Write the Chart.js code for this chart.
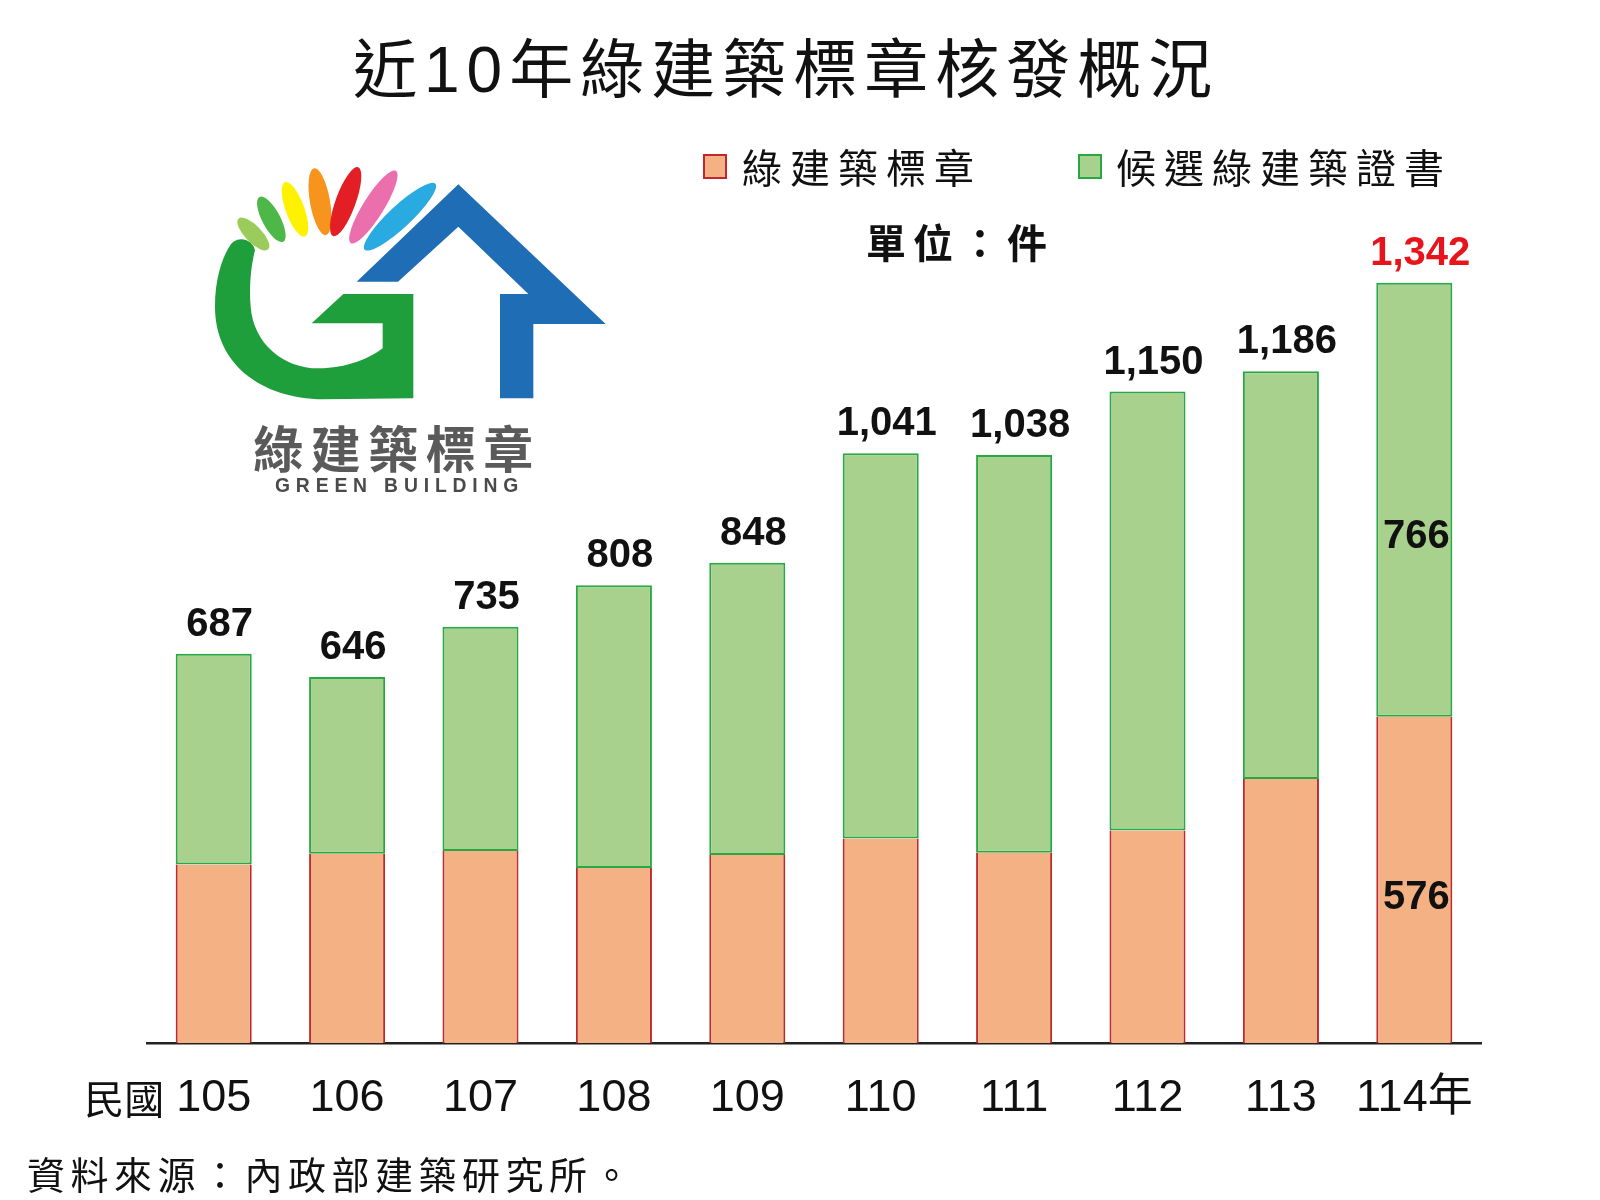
<!DOCTYPE html>
<html lang="zh-Hant">
<head>
<meta charset="utf-8">
<title>近10年綠建築標章核發概況</title>
<script src="https://cdn.jsdelivr.net/npm/chart.js@4.4.1/dist/chart.umd.min.js"></script>
<style>
  body { margin: 0; background: #fff; }
  #wrap { position: relative; width: 1600px; height: 1200px; overflow: hidden; font-family: "Liberation Sans", "Noto Sans CJK TC", sans-serif; color: #111; }
  #chart { position: absolute; left: 0; top: 0; }
  .txt { position: absolute; white-space: nowrap; }
  #title { left: 353px; top: 38px; font-size: 64px; line-height: 64px; letter-spacing: 7px; }
  .legend-box { position: absolute; width: 20px; height: 21px; border: 2px solid; }
  .legend-txt { font-family: "Noto Sans CJK TC", sans-serif; font-size: 40px; line-height: 40px; letter-spacing: 8px; top: 146px; }
  #unit { left: 866px; top: 221px; font-family: "Noto Sans CJK TC", sans-serif; font-weight: bold; font-size: 40px; line-height: 40px; letter-spacing: 7px; }
  #source { left: 27px; top: 1154px; font-family: "Noto Sans CJK TC", sans-serif; font-size: 38px; line-height: 38px; letter-spacing: 5.5px; }
  #logo { position: absolute; left: 200px; top: 150px; width: 420px; height: 350px; }
</style>
</head>
<body>
<div id="wrap">
  <canvas id="chart" width="1600" height="1200"></canvas>

  <div id="title" class="txt">近10年綠建築標章核發概況</div>

  <div class="legend-box" style="left:703px; top:154px; background:#f4b183; border-color:#c0282d;"></div>
  <div class="txt legend-txt" style="left:742px;">綠建築標章</div>
  <div class="legend-box" style="left:1078px; top:154px; background:#a9d18e; border-color:#27a844;"></div>
  <div class="txt legend-txt" style="left:1116px;">候選綠建築證書</div>

  <div id="unit" class="txt">單位：件</div>
  <div id="source" class="txt">資料來源：內政部建築研究所。</div>

  <!-- green building logo, drawn roughly -->
  <svg id="logo" viewBox="0 0 1260 1050" xmlns="http://www.w3.org/2000/svg">
    <ellipse cx="160" cy="252" rx="64" ry="25" fill="#9bcb5b" transform="rotate(46 160 252)"/>
    <ellipse cx="214" cy="208" rx="76" ry="27" fill="#4db848" transform="rotate(62 214 208)"/>
    <ellipse cx="285" cy="178" rx="87" ry="28" fill="#fff200" transform="rotate(70 285 178)"/>
    <ellipse cx="360" cy="155" rx="102" ry="30" fill="#f7941d" transform="rotate(80 360 155)"/>
    <ellipse cx="437" cy="155" rx="110" ry="30" fill="#e31e24" transform="rotate(110 437 155)"/>
    <ellipse cx="520" cy="171" rx="128" ry="31" fill="#ec6fad" transform="rotate(122 520 171)"/>
    <ellipse cx="600" cy="200" rx="145" ry="33" fill="#29abe2" transform="rotate(137 600 200)"/>
    <path d="M165,300 C150,360 148,420 152,470 C160,580 250,655 355,655 C440,655 510,625 548,595 L548,520 L335,520 L430,432 L640,432 L640,745 L370,748 C180,745 45,640 45,470 C45,390 65,330 85,295 A42,42 0 0 1 165,300 Z" fill="#1f9e3c"/>
    <path d="M470,395 L775,103 L1217,522 L1000,522 L1000,745 L900,745 L900,432 L985,432 L775,230 L594,395 Z" fill="#1f6db5"/>
    <text x="160" y="955" font-family="Noto Sans CJK TC" font-weight="bold" font-size="150" fill="#5a5a5a" textLength="840" lengthAdjust="spacing">綠建築標章</text>
    <text x="225" y="1025" font-family="Liberation Sans" font-weight="bold" font-size="58" fill="#4a4a4a" textLength="730" lengthAdjust="spacing">GREEN BUILDING</text>
  </svg>
</div>

<script>
// 民國年度
const years = ['105', '106', '107', '108', '109', '110', '111', '112', '113', '114'];
// 綠建築標章 (件)
const labelCounts = [315, 334, 339, 309, 332, 361, 336, 375, 466, 576];
// 候選綠建築證書 (件)
const candidateCounts = [372, 312, 396, 499, 516, 680, 702, 775, 720, 766];
// y 軸範圍
const yMax = 1400;

const totals = years.map((_, i) => labelCounts[i] + candidateCounts[i]);

// totals above bars, split values inside the latest bar, 民國 prefix
const barLabels = {
  id: 'barLabels',
  afterDraw(chart) {
    const ctx = chart.ctx;
    const bottom = chart.getDatasetMeta(0).data;
    const top = chart.getDatasetMeta(1).data;
    const last = top.length - 1;
    ctx.save();
    ctx.textAlign = 'center';
    ctx.textBaseline = 'alphabetic';
    ctx.font = 'bold 40px "Liberation Sans", Arial, sans-serif';
    top.forEach((bar, i) => {
      ctx.fillStyle = i === last ? '#e8141b' : '#111';
      ctx.fillText(totals[i].toLocaleString('en-US'), bar.x + 6, bar.y - 18);
    });

    ctx.fillStyle = '#111';
    const g = top[last];
    ctx.fillText(candidateCounts[last].toLocaleString('en-US'), g.x + 2, (g.y + g.base) / 2 + 48);
    const o = bottom[last];
    ctx.fillText(labelCounts[last].toLocaleString('en-US'), o.x + 2, (o.y + o.base) / 2 + 29);

    // 民國 before the first year
    const xs = chart.scales.x;
    ctx.font = '45px "Liberation Sans", Arial, sans-serif';
    const w = ctx.measureText(years[0]).width;
    ctx.font = '40px "Noto Sans CJK TC", sans-serif';
    ctx.textAlign = 'right';
    ctx.textBaseline = 'middle';
    ctx.fillText('民國', xs.getPixelForValue(0) - w / 2 - 12, 1099);
    ctx.restore();
  }
};

new Chart(document.getElementById('chart'), {
  type: 'bar',
  data: {
    labels: years,
    datasets: [
      {
        label: '綠建築標章',
        data: labelCounts,
        backgroundColor: '#f4b183',
        borderColor: '#c0282d',
        borderWidth: { left: 2, right: 2, top: 0, bottom: 0 },
        borderSkipped: false
      },
      {
        label: '候選綠建築證書',
        data: candidateCounts,
        backgroundColor: '#a9d18e',
        borderColor: '#27a844',
        borderWidth: 2,
        borderSkipped: false
      }
    ]
  },
  options: {
    responsive: false,
    devicePixelRatio: 1,
    animation: false,
    layout: { padding: { left: 147, right: 119, top: 250, bottom: 45 } },
    datasets: { bar: { categoryPercentage: 1, barPercentage: 0.57 } },
    plugins: {
      legend: { display: false },
      tooltip: { enabled: false }
    },
    scales: {
      x: {
        stacked: true,
        grid: { display: false, drawTicks: false },
        border: { display: true, color: '#222', width: 2.5 },
        ticks: {
          padding: 29,
          color: '#111',
          font: { family: '"Liberation Sans", "Noto Sans CJK TC", sans-serif', size: 45 },
          callback: (v, i) => i === years.length - 1 ? years[i] + '年' : years[i]
        }
      },
      y: {
        stacked: true,
        display: false,
        min: 0,
        max: yMax
      }
    }
  },
  plugins: [barLabels]
});
</script>
</body>
</html>
